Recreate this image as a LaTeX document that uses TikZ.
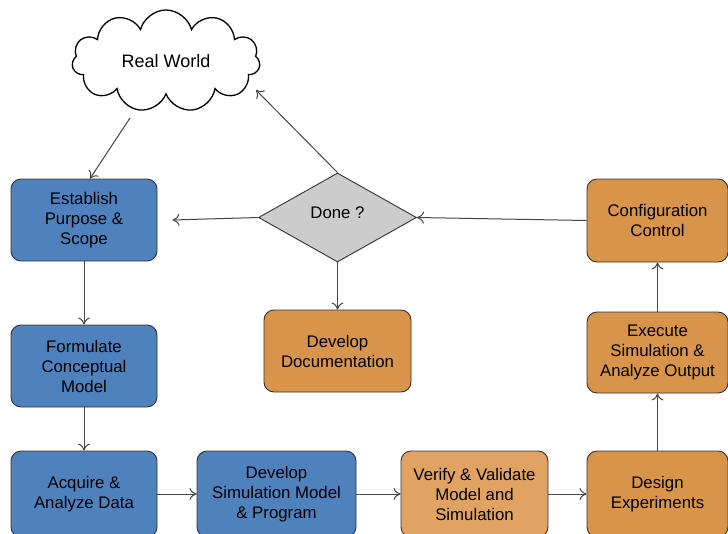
\documentclass[tikz,border=0pt]{standalone}
\usepackage{fontspec}
\setmainfont{Liberation Sans}
\usetikzlibrary{shapes.geometric,shapes.symbols,arrows.meta}
\definecolor{bluefill}{RGB}{79,129,189}
\definecolor{orangefill}{RGB}{217,148,75}
\definecolor{lightorange}{RGB}{224,163,99}
\definecolor{grayfill}{RGB}{204,204,204}
\definecolor{edge}{RGB}{51,51,51}
\definecolor{lineclr}{RGB}{70,70,70}
\begin{document}
\begin{tikzpicture}[x=1pt,y=-1pt,
  box/.style={draw=edge, line width=0.9pt, rounded corners=10pt, align=center,
    font=\fontsize{16.8}{20}\selectfont, inner sep=0pt, minimum width=146pt, minimum height=82pt},
  bluebox/.style={box, fill=bluefill},
  orangebox/.style={box, fill=orangefill},
  arr/.style={draw=lineclr, line width=1pt, -{To[length=7pt,width=12pt]}}
]
\useasboundingbox[fill=white] (0,0) rectangle (728,533);

\node[cloud, draw=black, line width=1.3pt, cloud puffs=11, aspect=2.1,
  minimum width=188pt, minimum height=102pt, inner sep=0pt,
  font=\fontsize{18}{20}\selectfont] (cloud) at (166,61) {Real World};

\node[bluebox] (est) at (84,220) {Establish\\Purpose \&\\Scope};
\node[bluebox] (form) at (84,366) {Formulate\\Conceptual\\Model};
\node[bluebox, minimum height=86pt] (acq) at (84,494) {Acquire \&\\Analyze Data};
\node[bluebox, minimum width=159pt, minimum height=86pt] (dev) at (276.5,494) {Develop\\Simulation Model\\\& Program};
\node[box, fill=lightorange, minimum width=147pt, minimum height=86pt] (ver) at (474.5,494) {Verify \& Validate\\Model and\\Simulation};
\node[orangebox, minimum width=141pt, minimum height=86pt] (des) at (657.5,494) {Design\\Experiments};
\node[orangebox, minimum width=141pt, minimum height=81pt] (exe) at (657.5,352.5) {Execute\\Simulation \&\\Analyze Output};
\node[orangebox, minimum width=141pt, minimum height=83pt] (conf) at (657.5,220.5) {Configuration\\Control};
\node[orangebox, minimum width=147pt] (doc) at (337.5,351) {\raisebox{-2pt}{Develop}\\\raisebox{-2pt}{Documentation}};

\node[diamond, draw=edge, line width=0.9pt, fill=grayfill, aspect=1.78,
  minimum width=158pt, minimum height=89pt, inner sep=0pt,
  font=\fontsize{16.8}{20}\selectfont] (done) at (337.5,217.5) {\raisebox{9pt}{Done ?}};

\coordinate (cloudout) at (130,118);
\coordinate (cloudin) at (256,90);

\draw[arr] (cloudout) -- ([xshift=6]est.north);
\draw[arr] (done.north) -- (cloudin);
\draw[arr] (done.west) -- ([xshift=15]est.east);
\draw[arr] (conf.west) -- (done.east);
\draw[arr] (done.south) -- (doc.north);
\draw[arr] (est) -- (form);
\draw[arr] (form) -- (acq);
\draw[arr] (acq) -- (dev);
\draw[arr] (dev) -- (ver);
\draw[arr] (ver) -- (des);
\draw[arr] (des) -- (exe);
\draw[arr] (exe) -- (conf);
\end{tikzpicture}
\end{document}
